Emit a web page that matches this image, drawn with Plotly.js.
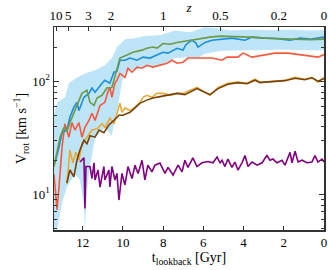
<!DOCTYPE html>
<html><head><meta charset="utf-8">
<script src="https://cdn.plot.ly/plotly-3.0.1.min.js"></script>
<style>html,body{margin:0;padding:0;background:#fff}#c{width:329px;height:270px}</style>
</head><body><div id="c"></div>
<script>
// lookback time (Gyr) and rotation velocity (km/s)
const bandUpT = [13.43,13.28,12.89,12.69,12.29,11.89,11.39,10.90,10.55,10.30,10.05,9.90,9.40,8.91,8.16,7.41,6.67,5.92,5.42,4.68,3.68,2.69,1.69,0.70,0];
const bandUpV = [50,64,72,96,108,117,125,138,160,200,220,235,240,250,255,280,270,300,295,280,285,282,285,280,282];
const bandLoT = [13.43,13.28,13.03,12.79,12.39,12.14,11.94,11.89,11.79,11.64,11.39,10.90,10.55,10.40,10.25,10.15,10.05,9.90,9.15,8.16,7.41,6.67,6.32,5.92,5.17,4.18,3.18,2.19,1.19,0];
const bandLoV = [4.84,4.84,8.4,11.6,15,13.4,7.8,4.84,11,17.6,32,39,33,48,60,75,98,120,130,138,160,163,158,175,185,188,188,190,188,188];

const greenT = [13.43,13.28,13.13,12.94,12.79,12.64,12.29,12.04,11.79,11.64,11.44,11.29,11.04,10.80,10.55,10.30,10.15,9.80,9.50,9.05,8.81,8.51,8.30,8.01,7.66,7.31,6.67,6.17,5.67,5.17,4.43,3.68,2.94,2.19,1.44,0.70,0];
const greenV = [17.6,24.6,32,39,36,43,61,78,83,65,61,71,75,87,88,125,160,170,180,188,195,200,196,215,212,220,230,240,245,250,248,245,240,238,235,232,235];

const blueT = [13.38,13.18,13.03,12.79,12.64,12.44,12.29,12.19,11.94,11.69,11.54,11.39,11.04,10.90,10.65,10.45,10.30,10.15,9.90,9.65,9.30,9.00,8.66,8.31,8.01,7.76,7.31,7.01,6.87,6.57,6.37,6.27,5.92,5.57,5.07,4.58,3.93,3.58,2.94,2.44,1.69,1.19,0.70,0.30,0];
const blueV = [19,26,35,37,48,59,65,55,72,78,87,80,96,102,96,120,122,153,153,160,153,163,160,170,180,177,195,188,210,230,217,200,220,230,235,240,230,245,240,238,230,240,235,240,245];

const redT = [13.43,13.28,13.18,13.03,12.89,12.69,12.54,12.39,12.19,12.04,11.89,11.69,11.54,11.39,11.14,10.90,10.75,10.65,10.55,10.40,10.30,10.15,9.90,9.75,9.55,9.30,9.05,8.81,8.51,8.16,7.81,7.56,7.31,7.01,6.77,6.42,6.07,5.57,5.07,4.83,4.28,4.03,3.58,2.94,2.44,1.79,1.19,0.45,0.30,0];
const redV = [15,7.3,11.6,26,42,32,43,37,43,32,39,45,52,45,61,65,80,88,72,96,102,117,108,130,120,133,130,138,133,138,144,153,144,147,160,160,160,160,153,163,163,177,163,170,177,177,172,166,163,172];

const orangeT = [12.79,12.64,12.49,12.34,12.19,12.04,11.79,11.54,11.29,11.04,10.90,10.65,10.45,10.30,10.15,10.05,9.90,9.65,9.40,9.15,9.00,8.81,8.56,8.31,8.01,7.66,7.31,7.01,6.67,6.32,6.07,5.67,5.27,4.78,4.28,3.83,3.43,3.18,2.94,2.44,1.94,1.44,0.95,0.60,0.30,0];
const orangeV = [12.4,24.6,19,23.5,20,28,32,37,38,42,39,47,42,52,64,53,58,55,59,65,72,75,72,78,78,75,78,78,83,88,83,75,88,96,98,96,104,98,98,100,102,108,104,108,98,108];

const brownT = [12.79,12.64,12.44,12.29,12.14,11.94,11.79,11.64,11.39,11.19,10.95,10.70,10.45,10.20,10.00,9.65,9.40,9.15,8.81,8.51,8.16,7.81,7.31,6.92,6.67,6.32,6.07,5.67,5.27,4.78,4.28,3.83,3.43,3.18,2.94,2.44,1.94,1.44,0.95,0.60,0.30,0];
const brownV = [12.6,16.4,14.3,20,24.6,30,28,33,32,37,35,41,45,50,50,53,58,64,68,71,73,75,78,76,80,86,82,76,86,94,97,95,102,97,98,100,101,106,103,107,100,105];

const purpleT = [12.14,11.94,11.89,11.84,11.79,11.64,11.54,11.44,11.39,11.24,11.14,10.95,10.90,10.70,10.65,10.55,10.40,10.30,10.20,10.05,9.90,9.75,9.55,9.40,9.25,9.05,8.91,8.76,8.56,8.41,8.16,7.91,7.76,7.51,7.26,7.06,6.92,6.77,6.52,6.32,6.07,5.77,5.52,5.32,5.17,5.07,4.93,4.78,4.58,4.43,4.28,4.08,3.93,3.78,3.58,3.33,3.08,2.84,2.69,2.54,2.34,2.09,1.94,1.69,1.59,1.44,1.29,1.09,0.85,0.60,0.45,0.30,0.10,0];
const purpleV = [19.3,21,7.5,17.6,17.6,17.6,13.8,19,13.4,16.4,11.6,17.6,13.4,16.4,11.6,17.6,13.4,15.3,8.9,15.3,12.1,17.6,13.8,18.1,15.3,20,13.4,18.1,15.8,18.1,18.9,15.3,17.3,14.8,18.1,15.8,20,17.3,21,17.6,19,19.5,19,21.4,19,20,17.6,20.5,17.3,19.3,16.4,19,22,17.6,19.3,18.1,19,22,20,20.5,19,20,18.1,23.5,19,24,19.3,20,19,19.3,22,19.3,20.5,19.3];

const zTickT = [13.33,12.72,11.72,10.6,8.0,5.15,2.25,0];
const zTickText = ['10','5','3','2','1','0.5','0.2','0'];
const xTicks = [12,10,8,6,4,2,0];
const yMajor = [10,100];
const yMajorText = ['10<sup>1</sup>','10<sup>2</sup>'];
const yMinor = [5,6,7,8,9,20,30,40,50,60,70,80,90,200,300];

const bandX = bandUpT.concat(bandLoT.slice().reverse());
const bandY = bandUpV.concat(bandLoV.slice().reverse());

const line = (x,y,c)=>({x:x,y:y,type:'scatter',mode:'lines',line:{color:c,width:1.6},hoverinfo:'skip'});
const data = [
  {x:bandX,y:bandY,type:'scatter',mode:'lines',fill:'toself',fillcolor:'rgba(135,206,240,0.55)',line:{width:0},hoverinfo:'skip'},
  line(purpleT,purpleV,'#800080'),
  line(orangeT,orangeV,'#e8a935'),
  line(brownT,brownV,'#7b4208'),
  line(redT,redV,'#f7593e'),
  line(blueT,blueV,'#1a90dc'),
  line(greenT,greenV,'#6e9a45'),
  {x:[0],y:[20],xaxis:'x2',type:'scatter',mode:'markers',marker:{opacity:0},hoverinfo:'skip'}
];
const F = 'Liberation Serif, DejaVu Serif, serif';
const layout = {
  width:329,height:270,margin:{l:54,r:5,t:27,b:40},
  paper_bgcolor:'#fff',plot_bgcolor:'#fff',showlegend:false,
  font:{family:F,size:13,color:'#000'},
  xaxis:{range:[13.43,0],tickvals:xTicks,ticks:'inside',ticklen:4,tickcolor:'#333',
    showline:true,linecolor:'#333',linewidth:1.5,showgrid:false,zeroline:false,
    tickfont:{size:13},
    title:{text:'t<sub>lookback</sub> [Gyr]',font:{size:14},standoff:2}},
  xaxis2:{overlaying:'x',side:'top',range:[13.43,0],tickvals:zTickT,ticktext:zTickText,
    ticks:'inside',ticklen:4,tickcolor:'#333',showline:true,linecolor:'#333',linewidth:1.5,
    showgrid:false,zeroline:false,tickfont:{size:13},
    title:{text:'<i>z</i>',font:{size:13},standoff:0}},
  yaxis:{type:'log',range:[Math.log10(4.84),Math.log10(301)],tickvals:yMajor,ticktext:yMajorText,
    ticks:'inside',ticklen:5,tickcolor:'#333',mirror:'ticks',showline:true,linecolor:'#333',linewidth:1.5,
    showgrid:false,zeroline:false,tickfont:{size:13},
    minor:{tickvals:yMinor,ticks:'inside',ticklen:3,tickcolor:'#333',showgrid:false},
    title:{text:'V<sub>rot</sub> [km s<sup>−1</sup>]',font:{size:14},standoff:2}}
};
Plotly.newPlot('c',data,layout,{staticPlot:true});
</script></body></html>
